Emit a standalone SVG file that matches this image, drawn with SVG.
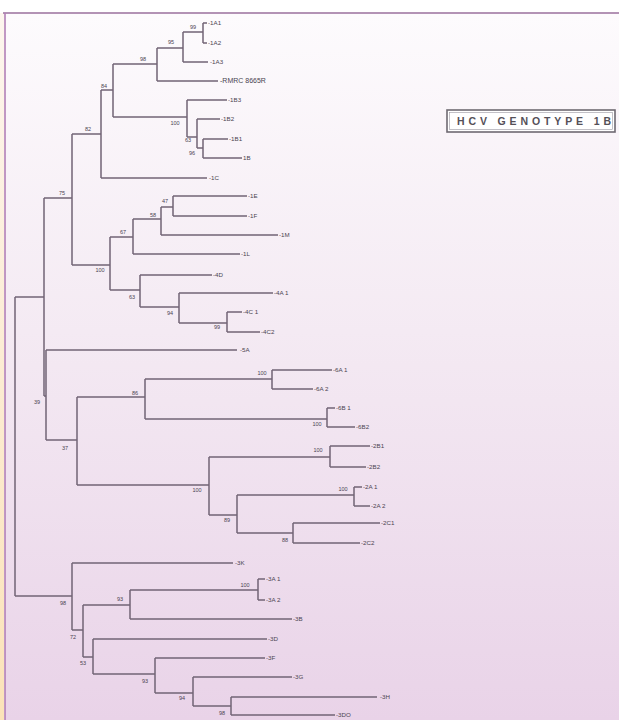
<svg xmlns="http://www.w3.org/2000/svg" width="619" height="720" viewBox="0 0 619 720">
<defs>
<linearGradient id="bg" x1="0" y1="0" x2="0" y2="1">
<stop offset="0" stop-color="#fdfbfd"/>
<stop offset="0.45" stop-color="#f4eaf3"/>
<stop offset="1" stop-color="#e9d3e8"/>
</linearGradient>
<linearGradient id="edge" x1="0" y1="0" x2="0" y2="1">
<stop offset="0" stop-color="#fdf6ee"/>
<stop offset="1" stop-color="#fbe3b8"/>
</linearGradient>
</defs>
<style>
.br{fill:none;stroke:#726475;stroke-width:1.5}
.lf{font-family:"Liberation Sans",Arial,sans-serif;font-size:6.2px;fill:#4a4450}
.bs{font-family:"Liberation Sans",Arial,sans-serif;font-size:5.5px;fill:#4a4450;text-anchor:middle}
.ttl{font-family:"Liberation Sans",Arial,sans-serif;font-size:10.5px;font-weight:bold;fill:#555058}
</style>
<rect x="0" y="0" width="619" height="720" fill="#ffffff"/>
<rect x="0" y="13" width="4" height="707" fill="url(#edge)"/>
<rect x="5" y="13" width="614" height="707" fill="url(#bg)"/>
<line x1="3" y1="13" x2="619" y2="13" stroke="#9a6f9c" stroke-width="1.6"/>
<line x1="5" y1="13" x2="5" y2="720" stroke="#b27fb5" stroke-width="1.6"/>

<g id="connectors" class="br">
<path d="M15,297V596M15,297H44M44,198V396M44,198H72M44,396H46M72,134V265M72,134H101M72,265H110"/>
<path d="M101,90V178M101,90H113M101,178H207M113,64V117M113,64H157M113,117H187"/>
<path d="M157,48V81M157,48H183M157,81H218M183,32V62M183,32H203M183,62H208M203,23V43M203,23H207M203,43H207"/>
<path d="M187,100V137M187,100H227M187,137H197M197,119V148M197,119H220M197,148H203M203,139V158M203,139H228M203,158H242"/>
<path d="M110,237V290M110,237H133M110,290H140M133,219V254M133,219H161M133,254H240M161,207V235M161,207H173M161,235H278M173,196V216M173,196H247M173,216H247"/>
<path d="M140,275V307M140,275H212M140,307H179M179,293V323M179,293H273M179,323H227M227,312V332M227,312H242M227,332H260"/>
<path d="M46,350V440M46,350H237M46,440H77M77,397V485M77,397H145M77,485H209"/>
<path d="M145,379V419M145,379H272M145,419H327M272,370V389M272,370H332M272,389H313M327,408V427M327,408H335M327,427H355"/>
<path d="M209,457V515M209,457H330M209,515H237M330,446V467M330,446H370M330,467H366"/>
<path d="M237,495V533M237,495H354M237,533H293M354,487V506M354,487H362M354,506H370M293,523V543M293,523H380M293,543H360"/>
<path d="M15,596H72M72,563V630M72,563H233M72,630H83M83,605V657M83,605H130M83,657H93"/>
<path d="M130,590V619M130,590H258M130,619H292M258,579V600M258,579H265M258,600H265"/>
<path d="M93,639V674M93,639H267M93,674H155M155,658V693M155,658H265M155,693H193M193,677V706M193,677H292M193,706H231M231,697V715M231,697H377M231,715H335"/>
</g>

<g id="title">
<rect x="447" y="110" width="168" height="22" fill="#ffffff" stroke="#6f6a72" stroke-width="1.6"/>
<rect x="449.5" y="112.5" width="163" height="17" fill="none" stroke="#9a96a0" stroke-width="0.6"/>
<text class="ttl" x="457" y="125" textLength="154" lengthAdjust="spacing">HCV GENOTYPE 1B</text>
</g>

<g id="n-1A1"><text class="lf" x="208" y="25">-1A1</text></g>
<g id="n-1A2"><text class="lf" x="208" y="45">-1A2</text></g>
<g id="n-1A3"><text class="lf" x="210" y="64">-1A3</text></g>
<g id="n-RMRC"><text class="lf" x="220" y="83" style="font-size:7px">-RMRC 8665R</text></g>
<g id="n-1B3"><text class="lf" x="228" y="102">-1B3</text></g>
<g id="n-1B2"><text class="lf" x="221" y="121">-1B2</text></g>
<g id="n-1B1"><text class="lf" x="229" y="141">-1B1</text></g>
<g id="n-1B"><text class="lf" x="243" y="160">1B</text></g>
<g id="n-1C"><text class="lf" x="209" y="180">-1C</text></g>
<g id="n-1E"><text class="lf" x="248" y="198">-1E</text></g>
<g id="n-1F"><text class="lf" x="248" y="218">-1F</text></g>
<g id="n-1M"><text class="lf" x="279" y="237">-1M</text></g>
<g id="n-1L"><text class="lf" x="241" y="256">-1L</text></g>
<g id="n-4D"><text class="lf" x="213" y="277">-4D</text></g>
<g id="n-4A1"><text class="lf" x="274" y="295">-4A 1</text></g>
<g id="n-4C1"><text class="lf" x="243" y="314">-4C 1</text></g>
<g id="n-4C2"><text class="lf" x="261" y="334">-4C2</text></g>
<g id="n-5A"><text class="lf" x="240" y="352">-5A</text></g>
<g id="n-6A1"><text class="lf" x="333" y="372">-6A 1</text></g>
<g id="n-6A2"><text class="lf" x="314" y="391">-6A 2</text></g>
<g id="n-6B1"><text class="lf" x="336" y="410">-6B 1</text></g>
<g id="n-6B2"><text class="lf" x="356" y="429">-6B2</text></g>
<g id="n-2B1"><text class="lf" x="371" y="448">-2B1</text></g>
<g id="n-2B2"><text class="lf" x="367" y="469">-2B2</text></g>
<g id="n-2A1"><text class="lf" x="363" y="489">-2A 1</text></g>
<g id="n-2A2"><text class="lf" x="371" y="508">-2A 2</text></g>
<g id="n-2C1"><text class="lf" x="381" y="525">-2C1</text></g>
<g id="n-2C2"><text class="lf" x="361" y="545">-2C2</text></g>
<g id="n-3K"><text class="lf" x="235" y="565">-3K</text></g>
<g id="n-3A1"><text class="lf" x="266" y="581">-3A 1</text></g>
<g id="n-3A2"><text class="lf" x="266" y="602">-3A 2</text></g>
<g id="n-3B"><text class="lf" x="293" y="621">-3B</text></g>
<g id="n-3D"><text class="lf" x="268" y="641">-3D</text></g>
<g id="n-3F"><text class="lf" x="266" y="660">-3F</text></g>
<g id="n-3G"><text class="lf" x="293" y="679">-3G</text></g>
<g id="n-3H"><text class="lf" x="380" y="699">-3H</text></g>
<g id="n-3I"><text class="lf" x="336" y="717">-3DO</text></g>

<g id="bootstrap">
<text class="bs" x="193" y="29">99</text>
<text class="bs" x="171" y="44">95</text>
<text class="bs" x="143" y="61">98</text>
<text class="bs" x="104" y="88">84</text>
<text class="bs" x="88" y="131">82</text>
<text class="bs" x="175" y="125">100</text>
<text class="bs" x="188" y="142">63</text>
<text class="bs" x="192" y="155">96</text>
<text class="bs" x="62" y="195">75</text>
<text class="bs" x="100" y="272">100</text>
<text class="bs" x="123" y="234">67</text>
<text class="bs" x="153" y="217">58</text>
<text class="bs" x="165" y="203">47</text>
<text class="bs" x="132" y="299">63</text>
<text class="bs" x="170" y="315">94</text>
<text class="bs" x="217" y="329">99</text>
<text class="bs" x="37" y="404">39</text>
<text class="bs" x="65" y="450">37</text>
<text class="bs" x="135" y="395">86</text>
<text class="bs" x="262" y="375">100</text>
<text class="bs" x="317" y="426">100</text>
<text class="bs" x="197" y="492">100</text>
<text class="bs" x="318" y="452">100</text>
<text class="bs" x="227" y="522">89</text>
<text class="bs" x="343" y="491">100</text>
<text class="bs" x="285" y="542">88</text>
<text class="bs" x="63" y="605">98</text>
<text class="bs" x="73" y="639">72</text>
<text class="bs" x="120" y="601">93</text>
<text class="bs" x="245" y="587">100</text>
<text class="bs" x="83" y="665">53</text>
<text class="bs" x="145" y="683">93</text>
<text class="bs" x="182" y="700">94</text>
<text class="bs" x="222" y="715">98</text>
</g>
</svg>
